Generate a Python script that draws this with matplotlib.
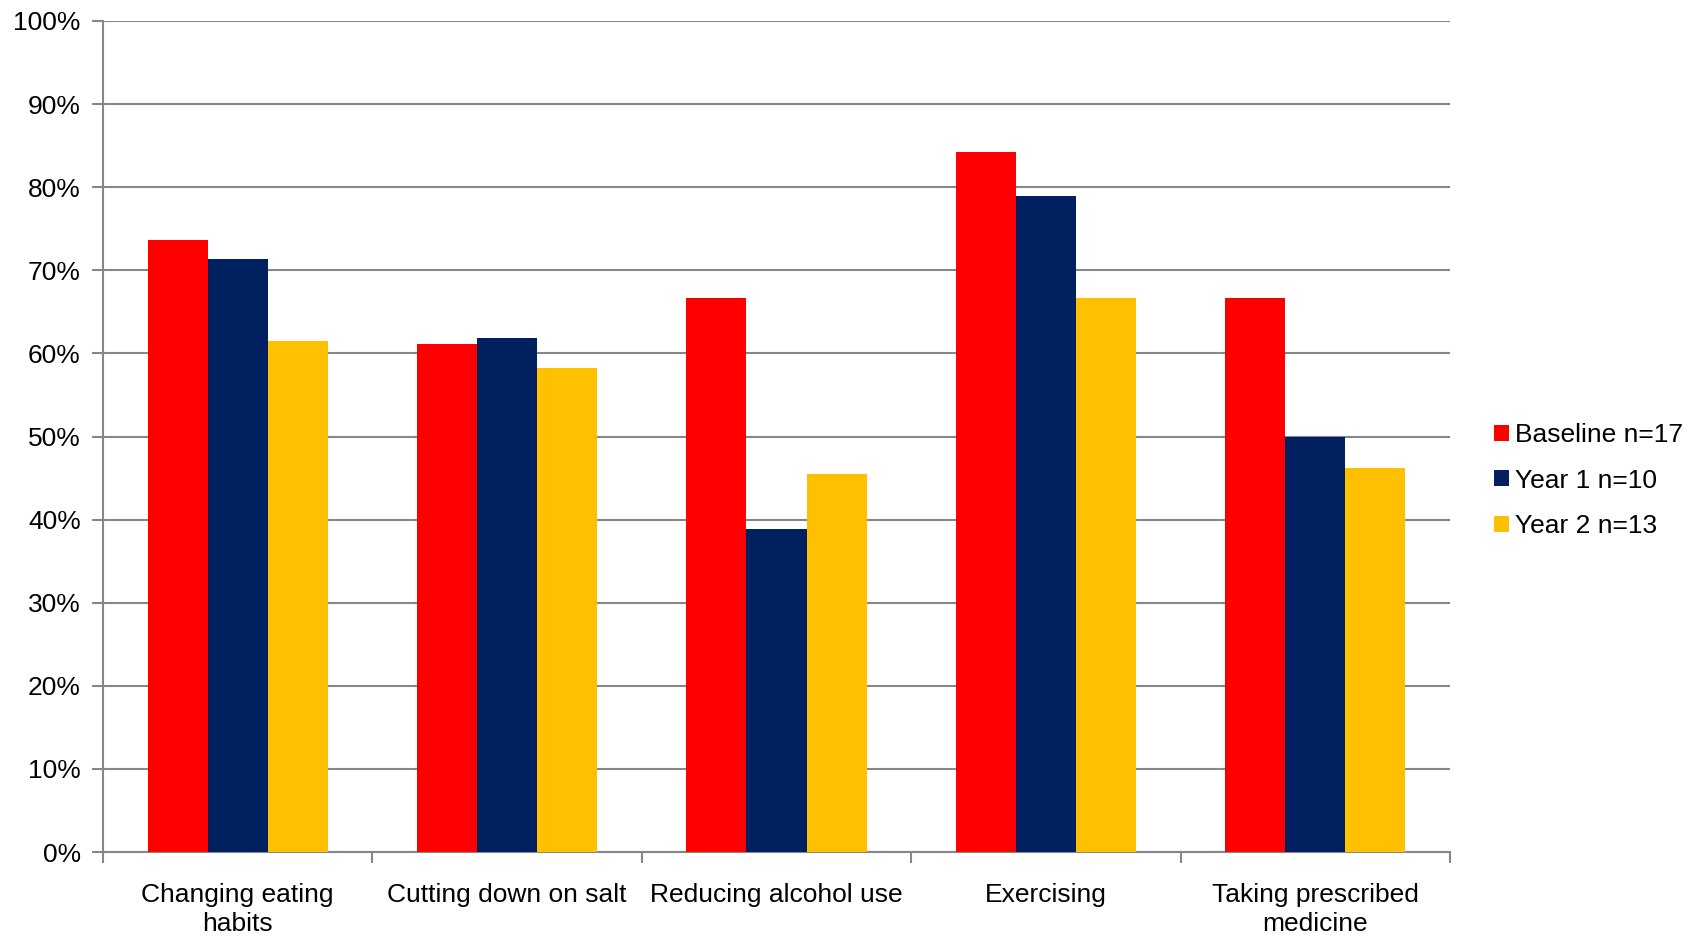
import numpy as np
import matplotlib
matplotlib.use('Agg')
import matplotlib.pyplot as plt
from matplotlib.ticker import PercentFormatter

categories = ['Changing eating\nhabits', 'Cutting down on salt', 'Reducing alcohol use',
              'Exercising', 'Taking prescribed\nmedicine']
series_names = ['Baseline n=17', 'Year 1 n=10', 'Year 2 n=13']
baseline = [73.7, 61.1, 66.7, 84.2, 66.7]
year1 = [71.4, 61.9, 38.9, 78.9, 50.0]
year2 = [61.5, 58.3, 45.5, 66.7, 46.2]
colors = ['#FF0000', '#002060', '#FFC000']

plt.rcParams['font.family'] = ['Liberation Sans', 'DejaVu Sans']
plt.rcParams['font.size'] = 19

fig = plt.figure(figsize=(16.94, 9.36), dpi=100)
ax = fig.add_axes([0.0608, 0.0897, 0.7952, 0.8879])

grid_col = '#878787'
x = np.arange(len(categories))
w = 0.223
for i, vals in enumerate([baseline, year1, year2]):
    ax.bar(x + (i - 1) * w, vals, width=w, color=colors[i], label=series_names[i], zorder=3)

ax.set_xlim(-0.5, len(categories) - 0.5)
ax.set_ylim(0, 100)
ax.set_yticks(np.arange(0, 101, 10))
ax.yaxis.set_major_formatter(PercentFormatter(decimals=0))
ax.yaxis.grid(True, color=grid_col, linewidth=1.5, zorder=0)

ax.set_xticks(x)
ax.set_xticklabels(categories, linespacing=1.3)
ax.set_xticks(np.arange(-0.5, len(categories)), minor=True)
ax.tick_params(axis='x', which='major', length=0, pad=22)
ax.tick_params(axis='x', which='minor', length=8, width=1.5, color=grid_col)
ax.tick_params(axis='y', length=8, width=1.5, color=grid_col, pad=8)

for s in ['top', 'right']:
    ax.spines[s].set_visible(False)
for s in ['left', 'bottom']:
    ax.spines[s].set_color(grid_col)
    ax.spines[s].set_linewidth(1.5)

ax.legend(loc='center left', bbox_to_anchor=(1.025, 0.447), frameon=False,
          handlelength=0.55, handleheight=0.55, handletextpad=0.25,
          labelspacing=0.82, borderaxespad=0, fontsize=19)

fig.savefig('out.png', dpi=100)
